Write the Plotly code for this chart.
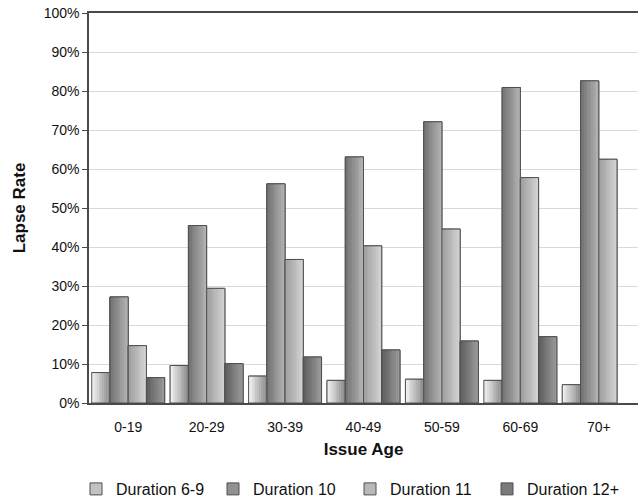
import plotly.graph_objects as go

# Lapse rate by issue age, one series per policy duration band
ages = ["0-19", "20-29", "30-39", "40-49", "50-59", "60-69", "70+"]
dur_6_9 = [0.078, 0.096, 0.069, 0.058, 0.061, 0.058, 0.047]
dur_10 = [0.272, 0.455, 0.562, 0.631, 0.721, 0.809, 0.826]
dur_11 = [0.147, 0.294, 0.368, 0.403, 0.446, 0.578, 0.625]
dur_12p = [0.065, 0.101, 0.118, 0.136, 0.159, 0.170, None]

series = [
    ("Duration 6-9", dur_6_9, (248, 248, 248), (140, 140, 140)),
    ("Duration 10", dur_10, (110, 110, 110), (180, 180, 180)),
    ("Duration 11", dur_11, (155, 155, 155), (212, 212, 212)),
    ("Duration 12+", dur_12p, (90, 90, 90), (155, 155, 155)),
]

GROUP = 0.93
BAR_W = GROUP / len(series)
STRIPS = 10
OUTLINE = "#505050"


def rgb(c):
    return "rgb(%d,%d,%d)" % c


def mix(a, b, t):
    return tuple(round(a[k] + (b[k] - a[k]) * t) for k in range(3))


fig = go.Figure()
for i, (name, vals, c0, c1) in enumerate(series):
    off = -GROUP / 2 + i * BAR_W
    # base bar, also supplies the legend entry
    fig.add_trace(go.Bar(
        name=name, x=ages, y=vals, offset=off, width=BAR_W,
        marker=dict(color=rgb(mix(c0, c1, 0.5)), line=dict(color=OUTLINE, width=1)),
        hoverinfo="skip",
    ))
    # left-to-right shading strips
    sw = BAR_W / STRIPS
    for k in range(STRIPS):
        fig.add_trace(go.Bar(
            x=ages, y=vals, offset=off + k * sw, width=sw * 1.02,
            marker=dict(color=rgb(mix(c0, c1, (k + 0.5) / STRIPS)), line=dict(width=0)),
            showlegend=False, hoverinfo="skip",
        ))
    # crisp outline on top
    fig.add_trace(go.Bar(
        x=ages, y=vals, offset=off, width=BAR_W,
        marker=dict(color="rgba(0,0,0,0)", line=dict(color=OUTLINE, width=1)),
        showlegend=False, hoverinfo="skip",
    ))

FONT = "Liberation Sans, Arial, sans-serif"

fig.update_layout(
    width=639, height=500,
    margin=dict(l=89, r=1, t=13, b=97, autoexpand=False),
    barmode="overlay",
    plot_bgcolor="white", paper_bgcolor="white",
    font=dict(family=FONT, size=14, color="#111111"),
    legend=dict(
        orientation="h",
        xref="container", x=76 / 639, xanchor="left",
        yref="container", y=11 / 500, yanchor="middle",
        font=dict(size=16), traceorder="normal",
        entrywidth=92, entrywidthmode="pixels",
    ),
    xaxis=dict(
        type="category", range=[-0.5, 6.5],
        showline=True, linecolor="#4a4a4a", linewidth=1.5, mirror=True,
        ticks="", ticklabelstandoff=10,
        title=dict(text="<b>Issue Age</b>", font=dict(size=17), standoff=10),
    ),
    yaxis=dict(
        range=[0, 1], dtick=0.1, tickformat=".0%",
        showline=True, linecolor="#4a4a4a", linewidth=1.5,
        ticks="outside", ticklen=5, tickcolor="#4a4a4a",
        gridcolor="#d9d9d9", gridwidth=1, zeroline=False,
        title=dict(text="<b>Lapse Rate</b>", font=dict(size=17), standoff=14),
    ),
)

fig.write_html("out.html")
